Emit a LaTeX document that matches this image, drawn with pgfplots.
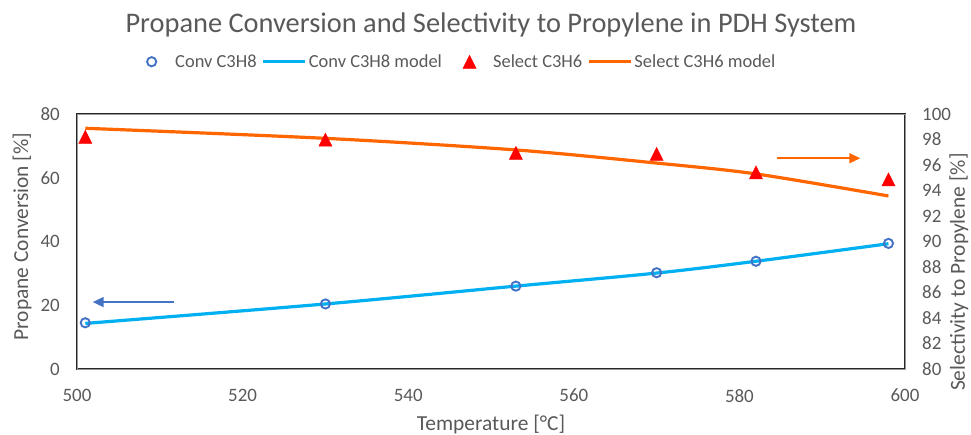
\documentclass[border=0pt]{standalone}
\usepackage{pgfplots}
\pgfplotsset{compat=1.18}
\usepackage{fontspec}
\setmainfont{Carlito}
\usetikzlibrary{arrows.meta}

\definecolor{txtgray}{HTML}{595959}
\definecolor{convblue}{HTML}{4472C4}
\definecolor{convline}{HTML}{00B0F0}
\definecolor{selred}{HTML}{FF0000}
\definecolor{selline}{HTML}{FF6600}

\pgfplotsset{
  common/.style={
    scale only axis, width=828bp, height=255bp,
    at={(77bp,66bp)}, anchor=south west,
    xmin=500, xmax=600,
    major tick length=0pt,
    /pgf/number format/assume math mode=true,
    tick label style={font=\fontsize{19}{19}\selectfont, color=txtgray, inner sep=0pt},
    yticklabel shift=17bp,
    xticklabel shift=20bp,
    label style={font=\fontsize{21.5}{21.5}\selectfont, color=txtgray},
  },
  linelegend/.style={legend image code/.code={\draw[##1] (0bp,0bp) -- (42bp,0bp);}},
  marklegend/.style={legend image code/.code={\draw[##1] plot coordinates {(0bp,0bp)};}},
  convmark/.style={mark=o, mark size=4.6bp, color=convblue,
    mark options={line width=1.9bp, solid}},
  selmark/.style={mark=triangle*, mark size=7.6bp, color=selred,
    mark options={yscale=1.15, yshift=-2bp}},
}

\begin{document}
\begin{tikzpicture}[x=1bp,y=1bp]
\path[use as bounding box] (0,0) rectangle (971,435);

% Left axis: propane conversion, carries the frame and the legend
\begin{axis}[common,
  ymin=0, ymax=80, ytick={0,20,...,80},
  xtick={500,520,...,600},
  xtick pos=bottom, ytick pos=left,
  axis line style={draw=black!85, line width=0.9bp, double=black!40, double distance=0.7bp},
  xlabel={Temperature [°C]},
  xlabel style={at={(axis description cs:0.5,-0.216)}, anchor=center},
  ylabel={Propane Conversion [\%]},
  ylabel style={at={(axis description cs:-0.0664,0.52)}, anchor=center},
  title={Propane Conversion and Selectivity to Propylene in PDH System},
  title style={font=\fontsize{28.5}{28.5}\selectfont, color=txtgray,
    at={(axis description cs:0.5,1.325)}, anchor=center},
  legend columns=4,
  legend style={draw=none, fill=none, at={(0.464,1.205)}, anchor=center,
    font=\fontsize{18.5}{18.5}\selectfont, text=txtgray,
    nodes={inner sep=0pt},
    /tikz/column 1/.style={column sep=19bp},
    /tikz/column 2/.style={column sep=5bp},
    /tikz/column 3/.style={column sep=2bp},
    /tikz/column 4/.style={column sep=21bp},
    /tikz/column 5/.style={column sep=17bp},
    /tikz/column 6/.style={column sep=5bp},
    /tikz/column 7/.style={column sep=2bp}},
]
\addlegendimage{marklegend, only marks, convmark}
\addlegendentry{Conv C3H8}
\addlegendimage{linelegend, color=convline, line width=3.2bp}
\addlegendentry{Conv C3H8 model}
\addlegendimage{marklegend, only marks, selmark}
\addlegendentry{Select C3H6}
\addlegendimage{linelegend, color=selline, line width=3.2bp}
\addlegendentry{Select C3H6 model}

\addplot[color=convline, line width=3.2bp, smooth] coordinates {
  (501,14.3) (530,20.4) (553,26.0) (570,30.1) (582,33.8) (598,39.3)};
\addplot[only marks, convmark] coordinates {
  (501,14.5) (530,20.4) (553,26.0) (570,30.2) (582,33.8) (598,39.4)};

\draw[-{Triangle[length=11bp,width=10bp]}, color=convblue, line width=1.6bp]
  (axis cs:511.7,21.0) -- (axis cs:501.9,21.0);
\end{axis}

% Right axis: selectivity to propylene
\begin{axis}[common,
  ymin=80, ymax=100, ytick={80,82,...,100},
  axis x line=none, axis y line*=right,
  axis line style={draw=none},
  ylabel={Selectivity to Propylene [\%]},
  ylabel style={at={(axis description cs:1.065,0.38)}, anchor=center},
]
\addplot[color=selline, line width=3.2bp, smooth] coordinates {
  (501,98.88) (530,98.09) (553,97.18) (570,96.15) (582,95.3) (598,93.57)};
\addplot[only marks, selmark] coordinates {
  (501,98.22) (530,98.0) (553,96.96) (570,96.88) (582,95.43) (598,94.88)};

\draw[-{Triangle[length=11bp,width=10bp]}, color=selline, line width=1.6bp]
  (axis cs:584.5,96.53) -- (axis cs:594.6,96.53);
\end{axis}
\end{tikzpicture}
\end{document}
